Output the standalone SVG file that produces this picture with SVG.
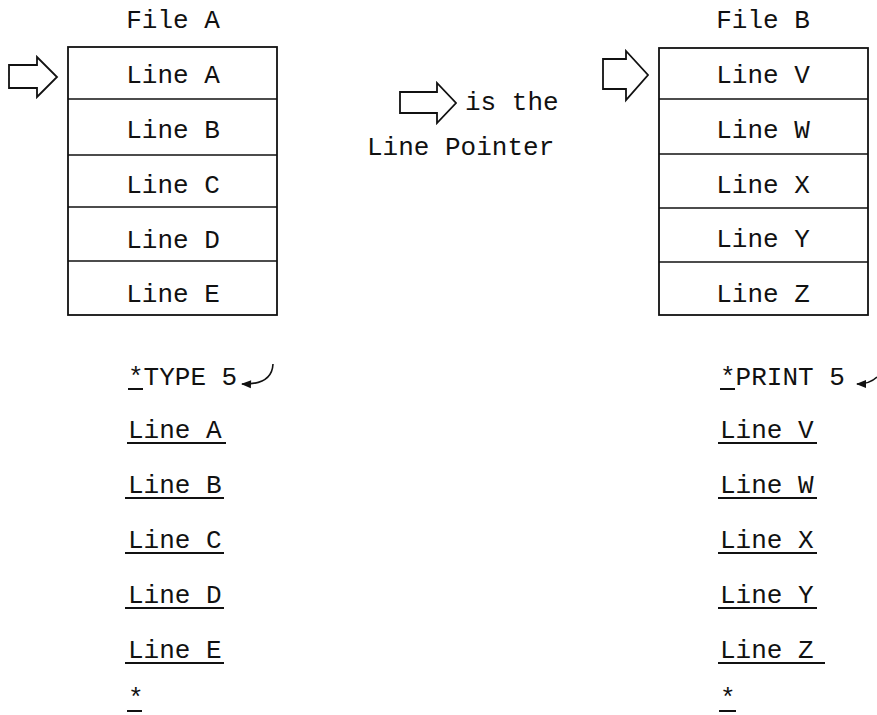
<svg xmlns="http://www.w3.org/2000/svg" width="877" height="715" viewBox="0 0 877 715">
<defs>
<style>
text{font-family:"Liberation Mono","Courier New",monospace;font-size:26px;fill:#111;}
.c{text-anchor:middle;}
.box{fill:none;stroke:#111;stroke-width:1.8;}
.div{stroke:#111;stroke-width:1.6;}
.ptr{fill:#fff;stroke:#111;stroke-width:1.8;stroke-linejoin:miter;}
.ul{stroke:#111;stroke-width:2;}
.cur{fill:none;stroke:#111;stroke-width:1.6;}
</style>
<marker id="ah" viewBox="0 0 10 10" refX="9" refY="5" markerWidth="12" markerHeight="10" markerUnits="userSpaceOnUse" orient="auto">
<path d="M0,1 L10,5 L0,9 Z" fill="#111"/>
</marker>
</defs>
<rect width="877" height="715" fill="#fff"/>

<g id="fileA">
<text class="c" x="173" y="28">File A</text>
<rect class="box" x="68" y="47" width="209" height="268"/>
<line class="div" x1="68" y1="99" x2="277" y2="99"/>
<line class="div" x1="68" y1="155" x2="277" y2="155"/>
<line class="div" x1="68" y1="207" x2="277" y2="207"/>
<line class="div" x1="68" y1="261" x2="277" y2="261"/>
<text class="c" x="173" y="83">Line A</text>
<text class="c" x="173" y="138">Line B</text>
<text class="c" x="173" y="193">Line C</text>
<text class="c" x="173" y="248">Line D</text>
<text class="c" x="173" y="302">Line E</text>
</g>
<g id="pointerA">
<polygon class="ptr" points="9,65 37,65 37,57 57,77 37,97 37,88 9,88"/>
</g>

<g id="fileB">
<text class="c" x="763" y="28">File B</text>
<rect class="box" x="659" y="48" width="209" height="267"/>
<line class="div" x1="659" y1="99" x2="868" y2="99"/>
<line class="div" x1="659" y1="154" x2="868" y2="154"/>
<line class="div" x1="659" y1="208" x2="868" y2="208"/>
<line class="div" x1="659" y1="262" x2="868" y2="262"/>
<text class="c" x="763" y="83">Line V</text>
<text class="c" x="763" y="138">Line W</text>
<text class="c" x="763" y="193">Line X</text>
<text class="c" x="763" y="247">Line Y</text>
<text class="c" x="763" y="302">Line Z</text>
</g>
<g id="pointerB">
<polygon class="ptr" points="603,59 626,59 626,51 648,75 626,100 626,89 603,89"/>
</g>

<g id="legend">
<polygon class="ptr" points="400,92 437,92 437,83 456,103 437,123 437,113 400,113"/>
<text x="465" y="110">is the</text>
<text x="367" y="155">Line Pointer</text>
</g>

<g id="typeOutput">
<text x="128" y="385">*TYPE 5</text>
<line class="ul" x1="128" y1="389" x2="143" y2="389"/>
<text x="128" y="438">Line A</text>
<line class="ul" x1="127" y1="443" x2="226" y2="443"/>
<text x="128" y="493">Line B</text>
<line class="ul" x1="125" y1="498" x2="224" y2="498"/>
<text x="128" y="548">Line C</text>
<line class="ul" x1="125" y1="553" x2="224" y2="553"/>
<text x="128" y="603">Line D</text>
<line class="ul" x1="125" y1="608" x2="224" y2="608"/>
<text x="128" y="658">Line E</text>
<line class="ul" x1="125" y1="663" x2="224" y2="663"/>
<text x="128" y="706">*</text>
<line class="ul" x1="127" y1="711" x2="142" y2="711"/>
</g>

<g id="printOutput">
<text x="720" y="385">*PRINT 5</text>
<line class="ul" x1="720" y1="389" x2="735" y2="389"/>
<text x="720" y="438">Line V</text>
<line class="ul" x1="718" y1="443" x2="817" y2="443"/>
<text x="720" y="493">Line W</text>
<line class="ul" x1="718" y1="498" x2="817" y2="498"/>
<text x="720" y="548">Line X</text>
<line class="ul" x1="718" y1="553" x2="817" y2="553"/>
<text x="720" y="603">Line Y</text>
<line class="ul" x1="718" y1="608" x2="817" y2="608"/>
<text x="720" y="658">Line Z</text>
<line class="ul" x1="718" y1="663" x2="825" y2="663"/>
<text x="720" y="706">*</text>
<line class="ul" x1="719" y1="711" x2="736" y2="711"/>
</g>

<g id="connectors">
<path class="cur" d="M273,364 Q272,385 242,384" marker-end="url(#ah)"/>
<path class="cur" d="M877,377 Q870,384 857,384" marker-end="url(#ah)"/>
</g>
</svg>
